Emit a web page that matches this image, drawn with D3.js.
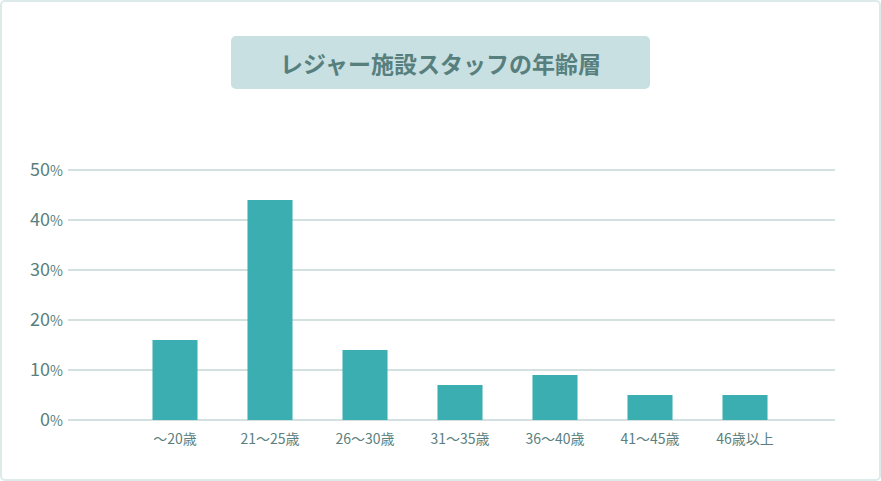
<!DOCTYPE html><html><head><meta charset="utf-8">
<script src="https://cdn.jsdelivr.net/npm/d3@7"></script>
<style>body{margin:0;background:#fff}</style></head><body>
<svg id="c" width="881" height="481"></svg>
<script>
const categories=["～20歳","21～25歳","26～30歳","31～35歳","36～40歳","41～45歳","46歳以上"];
const values=[16,44,14,7,9,5,5];
const ticks=[0,10,20,30,40,50];
const title="レジャー施設スタッフの年齢層";
const svg=d3.select("#c");
const F="'Noto Sans CJK JP','Noto Sans',sans-serif";
svg.append("rect").attr("x",1).attr("y",1).attr("width",879).attr("height",479).attr("rx",4).attr("fill","#fff").attr("stroke","#dcebea").attr("stroke-width",2);
svg.append("rect").attr("x",231).attr("y",36).attr("width",419).attr("height",53).attr("rx",5).attr("fill","#c8e0e2");
svg.append("text").attr("x",440.5).attr("y",63).attr("text-anchor","middle").attr("dominant-baseline","central")
 .attr("font-family",F).attr("font-weight","bold").attr("font-size",23).attr("fill","#577f7d").text(title);
const y=d3.scaleLinear().domain([0,50]).range([420,170]);
const x=d3.scaleBand().domain(categories).range([127.5,792.5]).paddingInner(0.526).paddingOuter(0.263);
svg.append("g").selectAll("line").data(ticks).join("line").attr("x1",68).attr("x2",835)
 .attr("y1",d=>y(d)).attr("y2",d=>y(d)).attr("stroke","#a6c3c1").attr("stroke-width",1);
const tl=svg.append("g").selectAll("text").data(ticks).join("text").attr("x",63).attr("y",d=>y(d)+6)
 .attr("text-anchor","end").attr("font-family",F).attr("fill","#5a7f7e").attr("font-size",18);
tl.append("tspan").text(d=>d);tl.append("tspan").attr("font-size",14).text("%");
svg.append("g").selectAll("rect").data(values).join("rect").attr("x",(d,i)=>x(categories[i])).attr("width",x.bandwidth())
 .attr("y",d=>y(d)).attr("height",d=>y(0)-y(d)).attr("fill","#3aaeb0");
svg.append("g").selectAll("text").data(categories).join("text").attr("x",d=>x(d)+x.bandwidth()/2).attr("y",444)
 .attr("text-anchor","middle").attr("font-family",F).attr("font-size",14).attr("fill","#5a7f7e").text(d=>d);
</script></body></html>
